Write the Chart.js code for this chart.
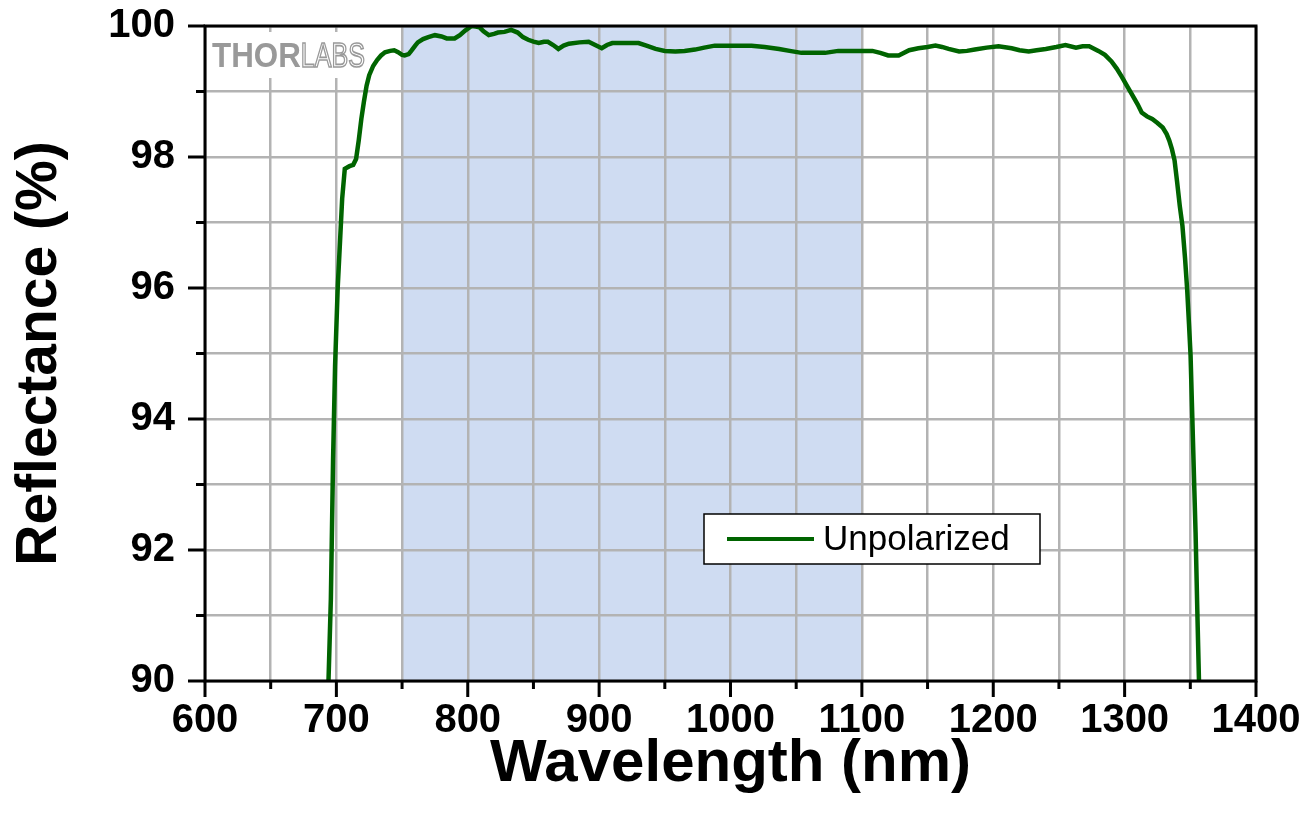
<!DOCTYPE html>
<html>
<head>
<meta charset="utf-8">
<script src="https://cdn.jsdelivr.net/npm/chart.js@4.4.1/dist/chart.umd.min.js"></script>
<style>
  body { margin: 0; background: #fff; }
  #wrap { width: 1314px; height: 818px; position: relative; }
</style>
</head>
<body>
<div id="wrap"><canvas id="reflChart"></canvas></div>
<script>
// values
const wavelength = [
  694, 695.8, 697.5, 699, 701, 703, 704.4, 706.4, 710, 712.8, 715, 717, 719, 721, 723, 725, 728, 731, 734, 737,
  741, 744, 747, 750, 752, 755, 757, 760, 762, 766, 770, 775, 780, 784, 790, 794, 798, 803, 806, 809,
  812, 816, 820, 823, 828, 833, 838, 842, 846, 850, 854, 858, 861, 865, 869, 873, 877, 885, 892, 897,
  902, 906, 910, 920, 930, 936, 943, 950, 958, 965, 973, 980, 988, 1000, 1016, 1026, 1037, 1045, 1054, 1063,
  1072, 1082, 1095, 1108, 1114, 1120, 1128, 1136, 1143, 1150, 1156, 1161, 1166, 1174, 1180, 1186, 1195, 1204, 1214, 1220,
  1227, 1233, 1240, 1248, 1255, 1263, 1268, 1273, 1280, 1285, 1290, 1294, 1298, 1302, 1306, 1310, 1313, 1317, 1321, 1325,
  1329, 1332, 1334, 1336, 1338, 1340, 1342, 1344, 1346, 1347.6, 1349, 1350.2, 1351.2, 1352.2, 1353.1, 1354, 1355.3, 1356.6
];
const reflectance = [
  90.0, 91.25, 93.4, 94.8, 96.0, 96.8, 97.36, 97.82, 97.86, 97.88, 97.97, 98.25, 98.58, 98.85, 99.09, 99.25, 99.39, 99.48, 99.55, 99.6,
  99.62, 99.63, 99.60, 99.56, 99.55, 99.57, 99.62, 99.70, 99.75, 99.80, 99.83, 99.86, 99.84, 99.81, 99.81, 99.86, 99.93, 100.0, 99.99, 99.98,
  99.92, 99.86, 99.88, 99.90, 99.91, 99.94, 99.90, 99.83, 99.79, 99.76, 99.74, 99.76, 99.76, 99.71, 99.65, 99.70, 99.73, 99.75, 99.76, 99.71,
  99.66, 99.71, 99.74, 99.74, 99.74, 99.70, 99.65, 99.62, 99.61, 99.62, 99.64, 99.67, 99.70, 99.70, 99.70, 99.68, 99.65, 99.62, 99.59, 99.59,
  99.59, 99.62, 99.62, 99.62, 99.59, 99.55, 99.55, 99.63, 99.66, 99.68, 99.70, 99.68, 99.65, 99.61, 99.62, 99.64, 99.67, 99.69, 99.66, 99.63,
  99.61, 99.63, 99.65, 99.68, 99.71, 99.67, 99.69, 99.69, 99.62, 99.56, 99.46, 99.35, 99.22, 99.08, 98.94, 98.80, 98.68, 98.62, 98.58, 98.52,
  98.45, 98.35, 98.25, 98.12, 97.95, 97.61, 97.25, 96.95, 96.45, 95.98, 95.45, 94.97, 94.25, 93.54, 92.9, 92.27, 91.10, 90.0
];
const seriesLabel = 'Unpolarized';
const bandRange = [750, 1100];   // shaded region
const xRange = [600, 1400];
const yRange = [90, 100];

const FONT = '"Liberation Sans", Arial, sans-serif';

// shaded band, drawn under the grid
const bandPlugin = {
  id: 'band',
  beforeDraw(chart) {
    const {ctx, chartArea, scales} = chart;
    const x0 = scales.x.getPixelForValue(bandRange[0]);
    const x1 = scales.x.getPixelForValue(bandRange[1]);
    ctx.save();
    ctx.fillStyle = '#cfdcf2';
    ctx.fillRect(x0, chartArea.top, x1 - x0, chartArea.bottom - chartArea.top);
    ctx.restore();
  }
};

// logo sits on a white patch over the grid, under the curve
const logoPlugin = {
  id: 'logo',
  beforeDatasetsDraw(chart) {
    const {ctx, chartArea} = chart;
    const l = chartArea.left, t = chartArea.top;
    ctx.save();
    ctx.fillStyle = '#fff';
    ctx.fillRect(l + 3, t + 6, 163, 46);
    ctx.textBaseline = 'alphabetic';
    ctx.fillStyle = '#999';
    ctx.translate(l + 7, t + 41);
    ctx.scale(0.95, 1.05);
    ctx.font = 'bold 33px ' + FONT;
    ctx.fillText('THOR', 0, 0);
    const w = ctx.measureText('THOR').width;
    ctx.translate(w, 0);
    ctx.scale(0.8, 1);
    ctx.font = '33px ' + FONT;
    ctx.strokeStyle = '#999';
    ctx.lineWidth = 1.6;
    ctx.strokeText('LABS', 0, 0);
    ctx.restore();
  }
};

// frame, tick marks, legend box
const framePlugin = {
  id: 'frame',
  afterDraw(chart) {
    const {ctx, chartArea, scales} = chart;
    const {left, right, top, bottom} = chartArea;
    ctx.save();
    ctx.strokeStyle = '#000';
    ctx.lineWidth = 3;
    ctx.beginPath();
    scales.x.ticks.forEach(t => {
      const px = scales.x.getPixelForValue(t.value);
      const len = t.value % 100 === 0 ? 16 : 8;
      ctx.moveTo(px, bottom);
      ctx.lineTo(px, bottom + len);
    });
    scales.y.ticks.forEach(t => {
      const py = scales.y.getPixelForValue(t.value);
      const len = t.value % 2 === 0 ? 17 : 9;
      ctx.moveTo(left, py);
      ctx.lineTo(left - len, py);
    });
    ctx.stroke();
    ctx.strokeRect(left, top, right - left, bottom - top);

    // legend
    const bx = 704, by = 514, bw = 336, bh = 50;
    ctx.fillStyle = '#fff';
    ctx.fillRect(bx, by, bw, bh);
    ctx.lineWidth = 1.5;
    ctx.strokeRect(bx, by, bw, bh);
    const ds = chart.data.datasets[0];
    ctx.strokeStyle = ds.borderColor;
    ctx.lineWidth = 4;
    ctx.beginPath();
    ctx.moveTo(bx + 23, by + 25);
    ctx.lineTo(bx + 110, by + 25);
    ctx.stroke();
    ctx.fillStyle = '#000';
    ctx.font = '35px ' + FONT;
    ctx.textBaseline = 'middle';
    ctx.fillText(ds.label, bx + 119, by + 26);
    ctx.restore();
  }
};

const ctx = document.getElementById('reflChart').getContext('2d');
const reflChart = new Chart(ctx, {
  type: 'line',
  data: {
    datasets: [{
      label: seriesLabel,
      data: wavelength.map((w, i) => ({x: w, y: reflectance[i]})),
      borderColor: '#006400',
      borderWidth: 4.5,
      pointRadius: 0,
      tension: 0,
      fill: false
    }]
  },
  options: {
    responsive: true,
    maintainAspectRatio: false,
    animation: false,
    layout: { padding: { top: 26, right: 58, left: 0, bottom: 0 } },
    plugins: { legend: { display: false }, tooltip: { enabled: false } },
    scales: {
      x: {
        type: 'linear',
        min: xRange[0],
        max: xRange[1],
        afterFit(scale) {
          scale.height = 137;
          scale.paddingLeft = 0;
          scale.paddingRight = 0;
        },
        grid: { color: '#b3b3b3', lineWidth: 2.5, drawTicks: false },
        border: { display: false },
        ticks: {
          stepSize: 50,
          autoSkip: false,
          maxRotation: 0,
          padding: 20,
          color: '#000',
          font: { family: FONT, size: 40, weight: 'bold', lineHeight: 1 },
          callback: v => (v % 100 === 0 ? String(v) : '')
        },
        title: {
          display: true,
          text: 'Wavelength (nm)',
          color: '#000',
          font: { family: FONT, size: 60, weight: 'bold', lineHeight: 1 },
          padding: { top: 0, bottom: 24 }
        }
      },
      y: {
        min: yRange[0],
        max: yRange[1],
        afterFit(scale) {
          scale.width = 205;
          scale.paddingTop = 0;
          scale.paddingBottom = 0;
        },
        grid: { color: '#b3b3b3', lineWidth: 2.5, drawTicks: false },
        border: { display: false },
        ticks: {
          stepSize: 1,
          autoSkip: false,
          padding: 30,
          color: '#000',
          font: { family: FONT, size: 40, weight: 'bold', lineHeight: 1 },
          callback: v => (v % 2 === 0 ? String(v) : '')
        },
        title: {
          display: true,
          text: 'Reflectance (%)',
          color: '#000',
          font: { family: FONT, size: 57, weight: 'bold', lineHeight: 1 },
          padding: { top: 12, bottom: 0 }
        }
      }
    }
  },
  plugins: [bandPlugin, logoPlugin, framePlugin]
});
</script>
</body>
</html>
